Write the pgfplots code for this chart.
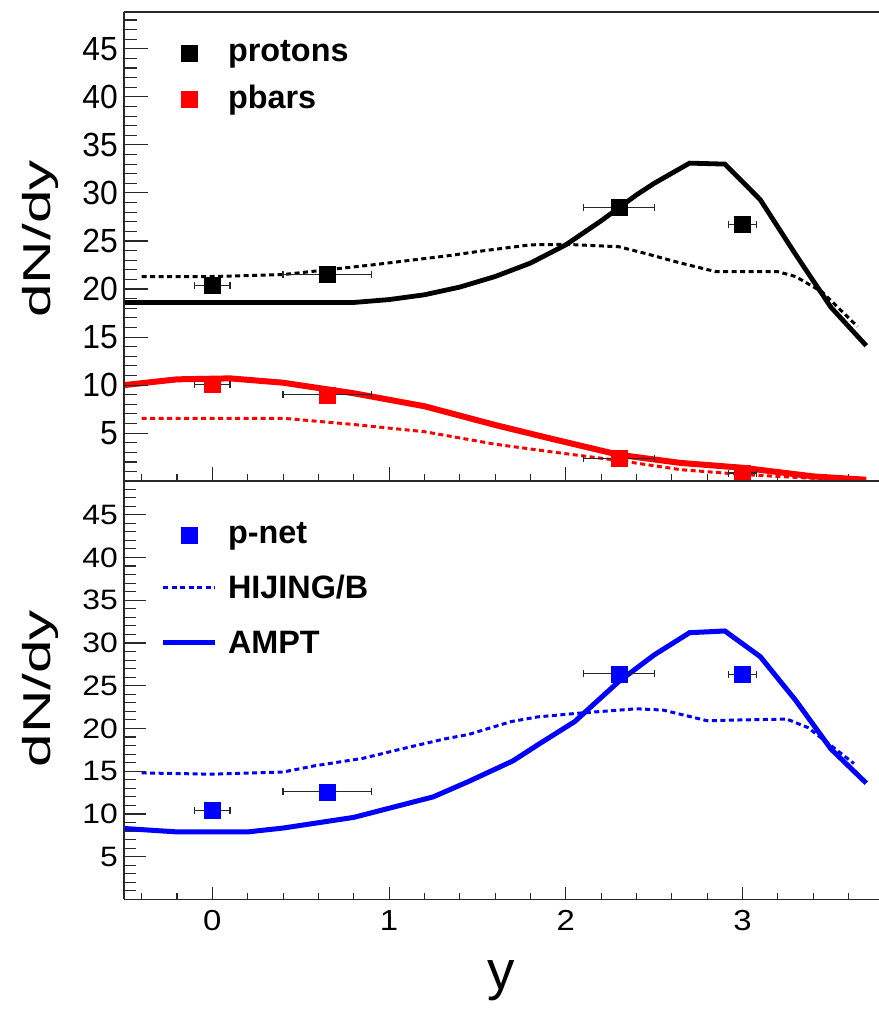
\documentclass[border=0pt]{standalone}
\usepackage{pgfplots}
\pgfplotsset{compat=1.18}
\usepackage{pgfplotstable}
\usepackage{fontspec}
\setmainfont{Liberation Sans}

\definecolor{pred}{RGB}{255,0,0}
\definecolor{pblue}{RGB}{0,0,255}
\definecolor{axisgray}{RGB}{40,40,40}

% measured dN/dy, with the half width of each rapidity bin
\pgfplotstableread{
y    dndy  ey
0.00 20.4  0.10
0.65 21.5  0.25
2.30 28.5  0.20
3.00 26.7  0.08
}\protons
\pgfplotstableread{
y    dndy  ey
0.00 10.1  0.10
0.65 9.0   0.25
2.30 2.4   0.20
3.00 0.85  0.08
}\pbars
\pgfplotstableread{
y    dndy  ey
0.00 10.4  0.10
0.65 12.6  0.25
2.30 26.4  0.20
3.00 26.3  0.08
}\pnet

% AMPT and HIJING/B predictions
\pgfplotstableread{
y dndy
-0.5 18.6
0.8 18.6
1.0 18.9
1.2 19.4
1.4 20.2
1.6 21.3
1.8 22.7
2.0 24.6
2.2 27.1
2.4 29.8
2.5 31.0
2.7 33.1
2.9 33.0
3.1 29.3
3.3 23.6
3.5 18.1
3.7 14.1
}\amptp
\pgfplotstableread{
y dndy
-0.4 21.3
0.0 21.3
0.4 21.5
0.9 22.5
1.35 23.5
1.5 23.9
1.8 24.6
2.0 24.65
2.3 24.4
2.45 23.7
2.65 22.7
2.85 21.8
3.2 21.8
3.3 21.3
3.45 19.7
3.65 16.1
}\hijingp
\pgfplotstableread{
y dndy
-0.5 10.0
-0.2 10.6
0.1 10.7
0.4 10.25
0.8 9.15
1.2 7.8
1.6 5.85
1.9 4.5
2.3 2.75
2.65 1.9
3.0 1.4
3.4 0.5
3.7 0.15
}\amptpbar
\pgfplotstableread{
y dndy
-0.4 6.55
0.4 6.55
0.8 5.9
1.2 5.15
1.6 3.85
1.9 3.1
2.3 2.15
2.65 1.2
3.0 0.7
3.4 0.3
3.7 0.15
}\hijingpbar
\pgfplotstableread{
y dndy
-0.5 8.3
-0.2 7.9
0.2 7.9
0.4 8.35
0.8 9.6
1.25 12.0
1.45 13.8
1.7 16.2
1.85 18.2
2.05 20.8
2.3 25.5
2.5 28.6
2.7 31.2
2.9 31.4
3.1 28.4
3.3 23.3
3.5 17.6
3.7 13.6
}\amptnet
\pgfplotstableread{
y dndy
-0.4 14.8
0.0 14.65
0.4 14.9
0.57 15.6
0.85 16.5
1.13 17.9
1.32 18.8
1.45 19.3
1.69 20.8
1.84 21.35
2.08 21.8
2.4 22.3
2.55 22.15
2.8 20.9
3.0 21.0
3.25 21.1
3.37 20.1
3.63 15.9
}\hijingnet

\pgfplotsset{
  panelbase/.style={
    scale only axis, width=755bp,
    xmin=-0.5, xmax=3.772, ymin=0,
    axis x line*=box, axis y line*=left,
    axis line style={-, line width=1.4bp, axisgray},
    tick align=inside,
    tick style={line width=1.1bp, axisgray},
  },
  xpart/.style={
    xtick={0,1,2,3},
    minor xtick={-0.4,-0.2,0.2,0.4,0.6,0.8,1.2,1.4,1.6,1.8,2.2,2.4,2.6,2.8,3.2,3.4,3.6},
    xtick pos=left,
    ytick=\empty,
  },
  ypart/.style={
    axis x line=none,
    ytick={5,10,...,45},
    minor ytick={1,...,48},
    ytick pos=left,
    /pgf/number format/assume math mode=true,
    yticklabel style={inner sep=0pt, anchor=east, xshift=-6bp, font=\fontsize{32}{36}\selectfont},
    every axis y label/.style={anchor=center, rotate=90, inner sep=0pt, font=\fontsize{39}{44}\selectfont},
    ylabel={\scalebox{1.55}[1]{dN/dy}},
  },
  % every legend image occupies exactly 52bp; the stroke itself does not widen it
  line legend img/.style={legend image code/.code={%
    \path[draw=none] (0bp,0bp) -- (52bp,0bp);
    \begin{pgfinterruptboundingbox}
      \draw[##1] (0bp,0bp) -- (52bp,0bp);
    \end{pgfinterruptboundingbox}}},
  mark legend img/.style={legend image code/.code={%
    \path[draw=none] (0bp,0bp) -- (52bp,0bp);
    \begin{pgfinterruptboundingbox}
      \draw[##1] plot[only marks] coordinates {(26bp,-1.5bp)};
    \end{pgfinterruptboundingbox}}},
  model dotted/.style={line width=3bp, dash pattern=on 5bp off 3.5bp},
  meas/.style={only marks, mark=square*, mark size=8bp,
    error bars/x dir=both, error bars/x explicit,
    error bars/error bar style={line width=1.2bp, axisgray},
    error bars/error mark options={rotate=90, mark size=3.5bp, line width=1.2bp, axisgray}},
  legfont/.style={legend cell align=left,
    legend style={draw=none, fill=none, inner sep=0pt, outer sep=0pt, column sep=13bp,
      anchor=north west, font=\bfseries\fontsize{32.5}{36}\selectfont,
      nodes={inner sep=0pt}}},
}

\begin{document}
\begin{tikzpicture}
\useasboundingbox (0,0) rectangle (879bp,1010bp);

% upper panel: protons and antiprotons
\begin{axis}[panelbase, xpart, at={(124bp,528.8bp)}, anchor=south west,
  height=469.2bp, ymax=48.83, major tick length=14bp, minor tick length=7bp,
  xticklabel=\empty, legfont,
  legend style={at={(axis description cs:0.0517,0.94)}, row sep=22.5bp}]
\addlegendimage{mark legend img, mark=square*, mark size=8bp, black}
\addlegendentry{protons}
\addlegendimage{mark legend img, mark=square*, mark size=8bp, pred}
\addlegendentry{pbars}
\addplot[black, model dotted] table[x=y, y=dndy] {\hijingp};
\addplot[black, line width=4.8bp] table[x=y, y=dndy] {\amptp};
\addplot[pred, model dotted] table[x=y, y=dndy] {\hijingpbar};
\addplot[pred, line width=6bp] table[x=y, y=dndy] {\amptpbar};
\addplot[meas, black] table[x=y, y=dndy, x error=ey] {\protons};
\addplot[meas, pred] table[x=y, y=dndy, x error=ey] {\pbars};
\end{axis}
\begin{axis}[panelbase, ypart, at={(124bp,528.8bp)}, anchor=south west,
  height=469.2bp, ymax=48.83, major tick length=24bp, minor tick length=13bp,
  yticklabel={\scalebox{1}[1.05]{\pgfmathprintnumber{\tick}}},
  every axis y label/.append style={at={(axis description cs:-0.1113,0.5165)}}]
\end{axis}

% lower panel: net protons
\begin{axis}[panelbase, xpart, at={(124bp,110.55bp)}, anchor=south west,
  height=418.25bp, ymax=48.92, major tick length=12.7bp, minor tick length=6bp,
  /pgf/number format/assume math mode=true,
  xticklabel={\scalebox{1}[0.88]{\pgfmathprintnumber{\tick}}},
  xticklabel style={inner sep=0pt, anchor=north, yshift=-10.5bp, font=\fontsize{33}{36}\selectfont},
  xlabel={y},
  every axis x label/.style={at={(axis description cs:0.5,-0.2156)}, anchor=base, inner sep=0pt, font=\fontsize{55}{60}\selectfont},
  legfont,
  legend style={at={(axis description cs:0.0517,0.902)}, row sep=30.5bp}]
\addlegendimage{mark legend img, mark=square*, mark size=8bp, pblue}
\addlegendentry{p-net}
\addlegendimage{line legend img, pblue, model dotted}
\addlegendentry{HIJING/B}
\addlegendimage{line legend img, pblue, line width=5.5bp}
\addlegendentry{AMPT}
\addplot[pblue, model dotted] table[x=y, y=dndy] {\hijingnet};
\addplot[pblue, line width=5bp] table[x=y, y=dndy] {\amptnet};
\addplot[meas, pblue] table[x=y, y=dndy, x error=ey] {\pnet};
\end{axis}
\begin{axis}[panelbase, ypart, at={(124bp,110.55bp)}, anchor=south west,
  height=418.25bp, ymax=48.92, major tick length=21.7bp, minor tick length=12bp,
  yticklabel={\scalebox{1}[0.88]{\pgfmathprintnumber{\tick}}},
  every axis y label/.append style={at={(axis description cs:-0.1113,0.504)}}]
\end{axis}
\end{tikzpicture}
\end{document}
